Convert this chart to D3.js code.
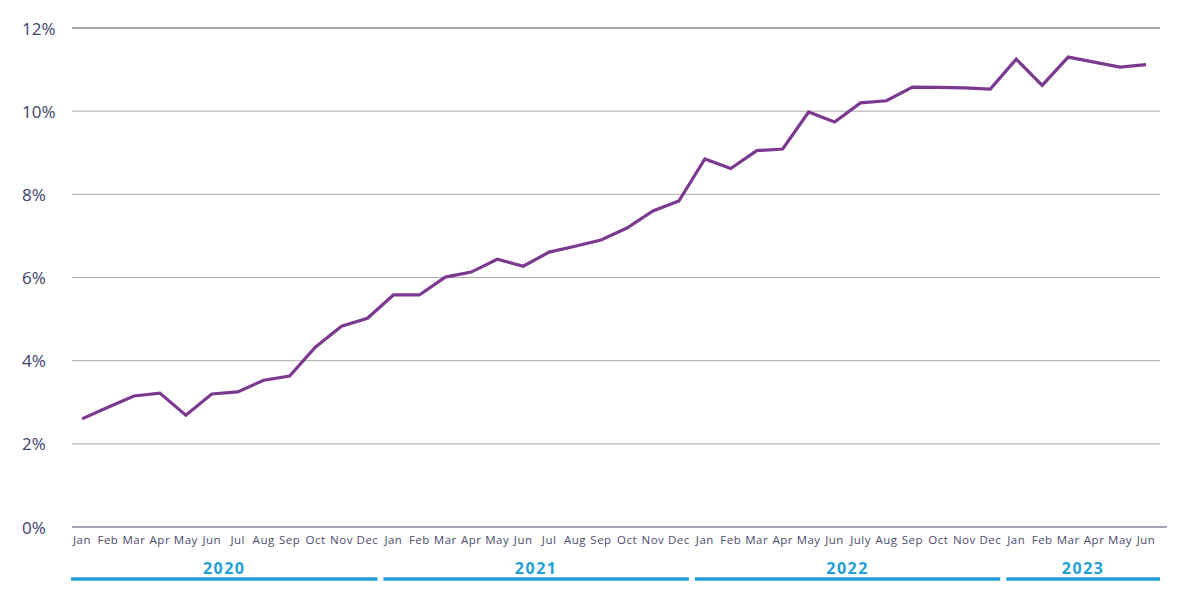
<!DOCTYPE html>
<html>
<head>
<meta charset="utf-8">
<script src="https://cdn.jsdelivr.net/npm/d3@7"></script>
<style>
  body { margin: 0; background: #fff; }
  svg { display: block; font-family: 'Open Sans', 'Lato', sans-serif; }
</style>
</head>
<body>
<div id="root"></div>
<script>
const months = ['Jan','Feb','Mar','Apr','May','Jun','Jul','Aug','Sep','Oct','Nov','Dec',
  'Jan','Feb','Mar','Apr','May','Jun','Jul','Aug','Sep','Oct','Nov','Dec',
  'Jan','Feb','Mar','Apr','May','Jun','July','Aug','Sep','Oct','Nov','Dec',
  'Jan','Feb','Mar','Apr','May','Jun'];
const years = ['2020', '2021', '2022', '2023'];
const monthsPerYear = [12, 12, 12, 6];
const values = [2.6, 2.88, 3.15, 3.22, 2.69, 3.2, 3.25, 3.53, 3.63, 4.33, 4.83, 5.02,
  5.58, 5.58, 6.01, 6.13, 6.44, 6.27, 6.61, 6.75, 6.9, 7.19, 7.6, 7.84,
  8.85, 8.62, 9.05, 9.09, 9.98, 9.74, 10.2, 10.25, 10.58, 10.57, 10.56, 10.53,
  11.25, 10.62, 11.3, 11.18, 11.06, 11.12];
const yTicks = [0, 2, 4, 6, 8, 10, 12];

const width = 1193, height = 603;
const plot = { left: 72, right: 1160, top: 28, bottom: 527 };

const svg = d3.select('#root').append('svg')
  .attr('width', width)
  .attr('height', height);

const idx = d3.range(values.length);

// x scale: one point per month
const x = d3.scalePoint()
  .domain(idx)
  .range([82, 1146]);

const y = d3.scaleLinear()
  .domain([0, 12])
  .range([plot.bottom, plot.top]);

// gridlines
svg.append('g').selectAll('line').data(yTicks.filter(t => t > 0))
  .enter().append('line')
    .attr('x1', plot.left)
    .attr('x2', plot.right)
    .attr('y1', d => y(d))
    .attr('y2', d => y(d))
    .attr('stroke', d => d === 12 ? '#444' : '#aaa')
    .attr('stroke-width', 1);

// baseline
svg.append('line')
  .attr('x1', plot.left)
  .attr('x2', 1167)
  .attr('y1', y(0))
  .attr('y2', y(0))
  .attr('stroke', '#4b4b6b')
  .attr('stroke-width', 1.2);

// y labels
svg.append('g').selectAll('text').data(yTicks)
  .enter().append('text')
    .attr('x', 22)
    .attr('y', d => y(d) + 2)
    .attr('dominant-baseline', 'middle')
    .attr('font-size', '17px')
    .attr('fill', '#3e416b')
    .text(d => d + '%');

// month labels
svg.append('g').selectAll('text').data(idx)
  .enter().append('text')
    .attr('x', d => x(d))
    .attr('y', 544)
    .attr('text-anchor', 'middle')
    .attr('font-size', '11.5px')
    .attr('letter-spacing', '0.5px')
    .attr('fill', '#4b4b6b')
    .text(d => months[d]);

// year bars and labels
let start = 0;
const yearSpans = years.map((yr, i) => {
  const first = start, last = start + monthsPerYear[i] - 1;
  start += monthsPerYear[i];
  return { yr, first, last };
});
const step = x.step();
yearSpans.forEach((s, i) => {
  const x0 = i === 0 ? plot.left - 1 : x(s.first) - step / 2 + 3;
  const x1 = i === yearSpans.length - 1 ? plot.right : x(s.last) + step / 2 - 3;
  svg.append('line')
    .attr('x1', x0).attr('x2', x1)
    .attr('y1', 579).attr('y2', 579)
    .attr('stroke', '#1f9fd8')
    .attr('stroke-width', 3.5);
  svg.append('text')
    .attr('x', (x0 + x1) / 2)
    .attr('y', 574)
    .attr('text-anchor', 'middle')
    .attr('font-size', '16px')
    .attr('font-weight', 'bold')
    .attr('letter-spacing', '1.5px')
    .attr('fill', '#1f9fd8')
    .text(s.yr);
});

// line
const line = d3.line()
  .x(d => x(d))
  .y(d => y(values[d]));

svg.append('path')
  .datum(idx)
  .attr('d', line)
  .attr('fill', 'none')
  .attr('stroke', '#7b3a8f')
  .attr('stroke-width', 3.2)
  .attr('stroke-linejoin', 'miter');
</script>
</body>
</html>
